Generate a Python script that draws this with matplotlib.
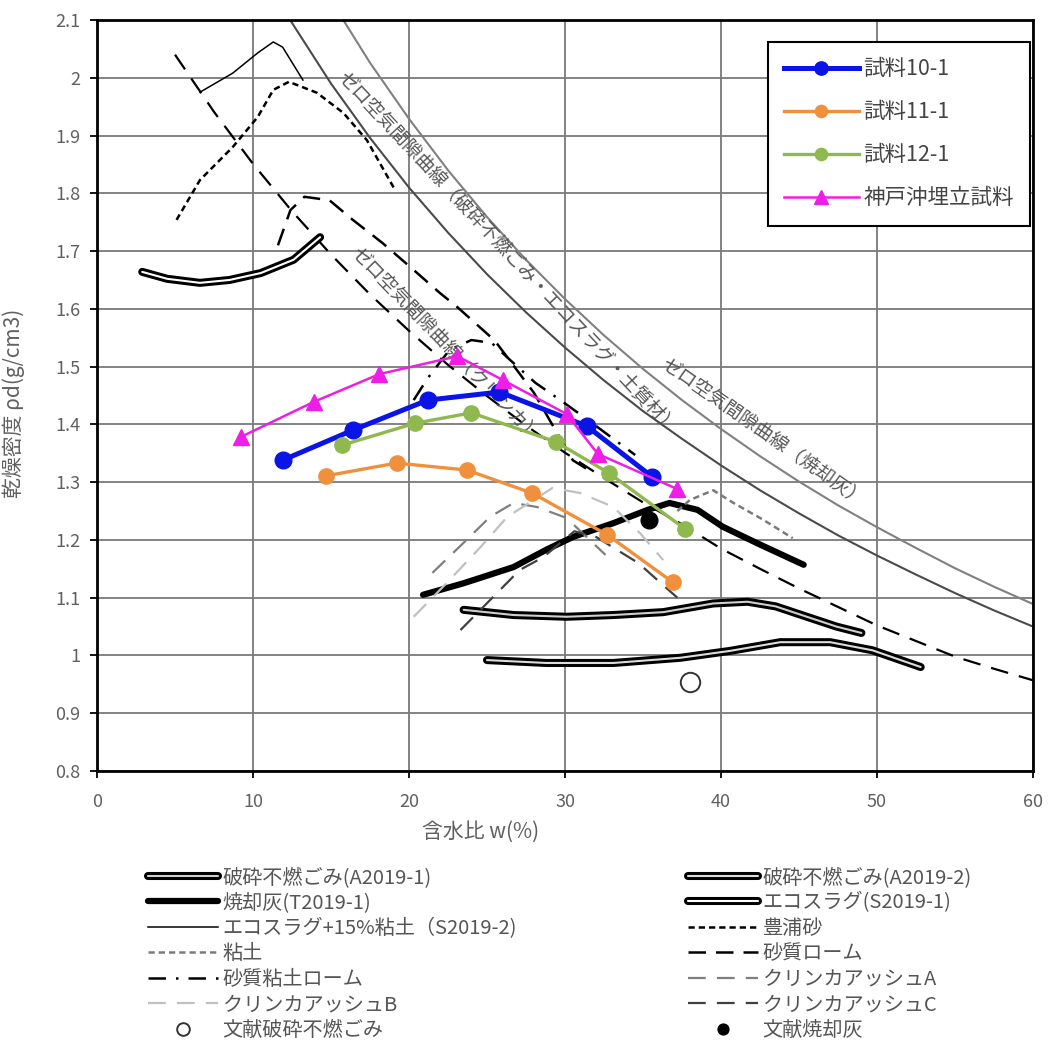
import matplotlib
matplotlib.use('Agg')
import matplotlib.pyplot as plt
import matplotlib.patheffects as pe
from matplotlib.ticker import FuncFormatter

plt.rcParams['font.family'] = ['Noto Sans CJK JP', 'DejaVu Sans']

# --- test samples (water content %, dry density g/cm3) ---
s10_w = [11.9, 16.4, 21.2, 25.8, 31.4, 35.6]
s10_d = [1.338, 1.390, 1.442, 1.456, 1.397, 1.309]
s11_w = [14.7, 19.2, 23.7, 27.9, 32.7, 36.9]
s11_d = [1.311, 1.333, 1.321, 1.281, 1.209, 1.127]
s12_w = [15.7, 20.4, 24.0, 29.4, 32.8, 37.7]
s12_d = [1.364, 1.402, 1.420, 1.370, 1.316, 1.219]
kobe_w = [9.2, 13.9, 18.1, 23.1, 26.0, 30.1, 32.1, 37.2]
kobe_d = [1.378, 1.439, 1.487, 1.518, 1.477, 1.418, 1.349, 1.288]

# --- zero air void curves ---
zav1_w = [12, 15, 17.5, 20, 22.5, 25, 27.5, 30, 32.5, 35, 37.5, 40, 42.5, 45, 47.5, 50, 52.5, 55, 57.5, 60]
zav1_d = [2.116, 1.990, 1.896, 1.810, 1.732, 1.660, 1.594, 1.533, 1.476, 1.423, 1.375, 1.329,
          1.286, 1.246, 1.208, 1.173, 1.140, 1.108, 1.078, 1.050]
zav2_w = [15, 17.5, 20, 22.5, 25, 27.5, 30, 32.5, 35, 37.5, 40, 42.5, 45, 47.5, 50, 52.5, 55, 57.5, 60]
zav2_d = [2.134, 2.026, 1.929, 1.840, 1.759, 1.685, 1.617, 1.554, 1.496, 1.442, 1.392, 1.345,
          1.301, 1.260, 1.222, 1.186, 1.151, 1.119, 1.089]
zav3_w = [5, 7.5, 10, 12.5, 15, 17.5, 20, 22.5, 25, 27.5, 30, 32.5, 35, 37.5, 40, 42.5, 45, 47.5, 50, 52.5, 55, 57.5, 60]
zav3_d = [2.040, 1.941, 1.851, 1.769, 1.694, 1.625, 1.562, 1.503, 1.449, 1.398, 1.351, 1.307,
          1.265, 1.227, 1.185, 1.150, 1.116, 1.084, 1.052, 1.025, 0.998, 0.977, 0.957]

# --- reference compaction curves ---
a1_w = [23.5, 26.7, 30.1, 33.1, 36.3, 39.5, 41.7, 43.5, 45.5, 47.4, 49.0]
a1_d = [1.079, 1.070, 1.067, 1.070, 1.075, 1.090, 1.093, 1.085, 1.067, 1.050, 1.039]
a2_w = [25.0, 28.8, 33.1, 37.4, 40.6, 43.8, 47.0, 49.7, 52.8]
a2_d = [0.992, 0.987, 0.987, 0.996, 1.008, 1.023, 1.023, 1.009, 0.980]
t1_w = [20.9, 23.5, 26.7, 28.8, 30.5, 33.1, 35.3, 36.7, 38.5, 40.1, 42.5, 45.3]
t1_d = [1.105, 1.125, 1.153, 1.183, 1.205, 1.229, 1.252, 1.264, 1.252, 1.223, 1.192, 1.157]
e1_w = [2.9, 4.5, 6.6, 8.5, 10.5, 12.6, 14.3]
e1_d = [1.664, 1.652, 1.645, 1.650, 1.662, 1.685, 1.724]
e2_w = [6.6, 8.7, 10.3, 11.3, 11.9, 13.2]
e2_d = [1.975, 2.008, 2.043, 2.062, 2.053, 1.996]
toyoura_w = [5.1, 6.6, 8.7, 10.3, 11.3, 12.3, 14.1, 15.8, 17.3, 19.1]
toyoura_d = [1.754, 1.823, 1.880, 1.932, 1.979, 1.993, 1.974, 1.939, 1.892, 1.806]
clay_w = [37.2, 38.0, 39.5, 40.8, 42.7, 44.6]
clay_d = [1.250, 1.269, 1.286, 1.264, 1.235, 1.203]
sloam_w = [11.6, 12.4, 13.3, 14.9, 16.4, 18.3, 20.1, 22.0, 23.1, 25.5, 28.0, 30.5, 31.8]
sloam_d = [1.710, 1.771, 1.794, 1.788, 1.754, 1.714, 1.672, 1.627, 1.603, 1.545, 1.455, 1.338, 1.316]
scloam_w = [20.3, 21.2, 22.6, 24.0, 25.3, 26.5, 28.1, 29.7, 31.3, 33.2, 34.5]
scloam_d = [1.442, 1.480, 1.529, 1.546, 1.541, 1.511, 1.472, 1.442, 1.411, 1.373, 1.347]
cla_w = [21.5, 23.5, 25.2, 26.7, 28.2, 30.1, 32.6]
cla_d = [1.143, 1.195, 1.240, 1.264, 1.257, 1.238, 1.174]
clb_w = [20.3, 22.4, 24.6, 26.3, 29.2, 31.0, 33.1, 34.8, 36.3]
clb_d = [1.067, 1.125, 1.188, 1.240, 1.290, 1.281, 1.257, 1.212, 1.165]
clc_w = [23.3, 25.2, 27.1, 28.6, 30.6, 32.0, 34.7, 37.2]
clc_d = [1.044, 1.096, 1.148, 1.170, 1.215, 1.205, 1.160, 1.100]
lit_refuse = (38.0, 0.954)
lit_ash = (35.4, 1.234)

fig = plt.figure(figsize=(10.5, 10.57), dpi=100)
ax = fig.add_axes([97/1050, 1-771/1057, 936/1050, 751/1057])

def double_line(w, d, inner, label):
    return ax.plot(w, d, color=inner, lw=1.5, solid_capstyle='round', label=label,
                   path_effects=[pe.Stroke(linewidth=5.8, foreground='black', capstyle='round'),
                                 pe.Normal()])[0]

# zero air void
ax.plot(zav2_w, zav2_d, color='#808080', lw=1.5)
ax.plot(zav1_w, zav1_d, color='#4a4a4a', lw=1.5)
ax.plot(zav3_w, zav3_d, color='black', lw=1.6, dashes=(8, 5))

lab = dict(rotation_mode='anchor', ha='left', va='center', fontsize=13.5, color='#555555')
ax.text(15.6, 2.005, 'ゼロ空気間隙曲線（破砕不燃ごみ・エコスラグ・土質材）', rotation=-47, **lab)
ax.text(36.3, 1.508, 'ゼロ空気間隙曲線（焼却灰）', rotation=-35, **lab)
ax.text(16.5, 1.702, 'ゼロ空気間隙曲線（クリンカ）', rotation=-46, **lab)

h_a1 = double_line(a1_w, a1_d, '#cfcfcf', '破砕不燃ごみ(A2019-1)')
h_a2 = double_line(a2_w, a2_d, '#dcdcdc', '破砕不燃ごみ(A2019-2)')
h_e1 = double_line(e1_w, e1_d, 'white', 'エコスラグ(S2019-1)')
h_t1, = ax.plot(t1_w, t1_d, color='black', lw=4.5, solid_capstyle='round', label='焼却灰(T2019-1)')
h_e2, = ax.plot(e2_w, e2_d, color='black', lw=1.1, label='エコスラグ+15%粘土（S2019-2)')
h_toy, = ax.plot(toyoura_w, toyoura_d, color='black', lw=1.8, dashes=(2.5, 1.6), label='豊浦砂')
h_clay, = ax.plot(clay_w, clay_d, color='#7a7a7a', lw=1.8, dashes=(2.5, 1.6), label='粘土')
h_sl, = ax.plot(sloam_w, sloam_d, color='black', lw=1.8, dashes=(7, 4), label='砂質ローム')
h_scl, = ax.plot(scloam_w, scloam_d, color='black', lw=1.8, dashes=(7, 4, 1, 4), label='砂質粘土ローム')
h_cla, = ax.plot(cla_w, cla_d, color='#7f7f7f', lw=1.6, dashes=(8, 5), label='クリンカアッシュA')
h_clb, = ax.plot(clb_w, clb_d, color='#c0c0c0', lw=1.6, dashes=(8, 5), label='クリンカアッシュB')
h_clc, = ax.plot(clc_w, clc_d, color='#404040', lw=1.6, dashes=(8, 5), label='クリンカアッシュC')
h_lr, = ax.plot([lit_refuse[0]], [lit_refuse[1]], 'o', ms=14, mfc='white', mec='#333333', mew=1.4,
                linestyle='none', label='文献破砕不燃ごみ')
h_la, = ax.plot([lit_ash[0]], [lit_ash[1]], 'o', ms=12, color='black', linestyle='none',
                label='文献焼却灰')

# samples
h10, = ax.plot(s10_w, s10_d, color='#0a14e6', lw=3.6, marker='o', ms=12, label='試料10-1', zorder=6)
h11, = ax.plot(s11_w, s11_d, color='#f0903c', lw=2.4, marker='o', ms=11, label='試料11-1', zorder=6)
h12, = ax.plot(s12_w, s12_d, color='#8fb84e', lw=2.4, marker='o', ms=11, label='試料12-1', zorder=6)
hk, = ax.plot(kobe_w, kobe_d, color='#ee1ee6', lw=1.8, marker='^', ms=12, label='神戸沖埋立試料', zorder=7)

ax.set_xlim(0, 60)
ax.set_ylim(0.8, 2.1)
ax.set_xticks(range(0, 61, 10))
ax.set_yticks([0.8 + 0.1 * i for i in range(14)])
ax.yaxis.set_major_formatter(FuncFormatter(lambda v, p: '%g' % round(v, 1)))
ax.grid(True, color='#7a7a7a', lw=1.3)
ax.set_axisbelow(True)
for s in ax.spines.values():
    s.set_linewidth(2)
    s.set_color('black')
ax.tick_params(direction='out', length=5, width=1.3, labelsize=13, labelcolor='#606060')
ax.tick_params(axis='x', pad=11)
ax.tick_params(axis='y', pad=7)

ax.set_ylabel('乾燥密度 ρd(g/cm3)', fontsize=15, color='#606060')
ax.yaxis.set_label_coords(-0.077, 0.49)
ax.set_xlabel('含水比 w(%)', fontsize=15, color='#606060')
ax.xaxis.set_label_coords(0.41, -0.066)

leg = ax.legend([h10, h11, h12, hk], ['試料10-1', '試料11-1', '試料12-1', '神戸沖埋立試料'],
                loc='upper right', bbox_to_anchor=(1030/1050, 1-42/1057), bbox_transform=fig.transFigure,
                borderaxespad=0, fancybox=False, framealpha=1, edgecolor='black', fontsize=15.5,
                handlelength=3.5, labelspacing=0.98, borderpad=0.75, handletextpad=0.2, markerscale=0.8)
leg.get_frame().set_linewidth(1.5)
for t in leg.get_texts():
    t.set_color('#444444')

left = [h_a1, h_t1, h_e2, h_clay, h_scl, h_clb, h_lr]
right = [h_a2, h_e1, h_toy, h_sl, h_cla, h_clc, h_la]
for hs, x0 in ((left, 148), (right, 688)):
    lg = fig.legend(hs, [h.get_label() for h in hs], loc='upper left',
                    bbox_to_anchor=(x0/1050, 1-867/1057), frameon=False, fontsize=14.5,
                    handlelength=3.5, handletextpad=0.2, labelspacing=0.22, markerscale=0.65,
                    borderaxespad=0, borderpad=0)
    for t in lg.get_texts():
        t.set_color('#555555')

fig.savefig('out.png', dpi=100)
